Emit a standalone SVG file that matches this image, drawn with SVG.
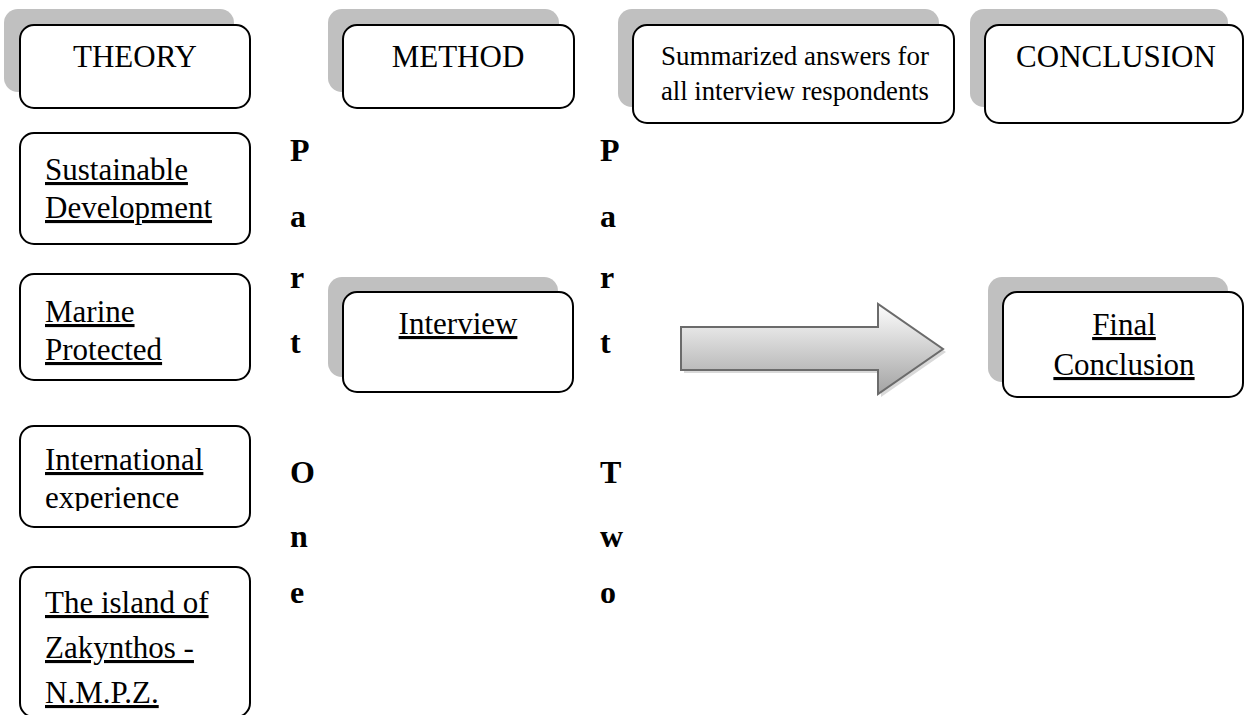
<svg xmlns="http://www.w3.org/2000/svg" width="1246" height="715" viewBox="0 0 1246 715">
<style>
.sh{fill:#c0c0c0}
.bx{fill:#fff;stroke:#000;stroke-width:2}
text{font-family:'Liberation Serif','Times New Roman',Times,serif;fill:#000}
.t{font-size:31px}
.u{text-decoration:underline}
.b{font-size:32px;font-weight:bold}
</style>
<defs>
<linearGradient id="ag" x1="0" y1="0" x2="0" y2="1">
<stop offset="0" stop-color="#fdfdfd"/>
<stop offset="1" stop-color="#a3a3a3"/>
</linearGradient>
<clipPath id="clipIntl"><rect x="0" y="426" width="260" height="85"/></clipPath>
</defs>
<rect width="1246" height="715" fill="#fff"/>

<g id="theory">
<rect class="sh" x="4" y="9" width="230" height="83" rx="14"/>
<rect class="bx" x="20" y="25" width="230" height="83" rx="14"/>
<text class="t" x="135" y="67" text-anchor="middle">THEORY</text>
</g>
<g id="method">
<rect class="sh" x="328" y="9" width="231" height="83" rx="14"/>
<rect class="bx" x="343" y="25" width="231" height="83" rx="14"/>
<text class="t" x="458" y="67" text-anchor="middle">METHOD</text>
</g>
<g id="summarized">
<rect class="sh" x="618" y="9" width="321" height="98" rx="14"/>
<rect class="bx" x="633" y="25" width="321" height="98" rx="14"/>
<text class="t" x="661" y="65" textLength="268" lengthAdjust="spacingAndGlyphs" style="font-size:28px">Summarized answers for</text>
<text class="t" x="661" y="100" textLength="268" lengthAdjust="spacingAndGlyphs" style="font-size:28px">all interview respondents</text>
</g>
<g id="conclusion">
<rect class="sh" x="970" y="9" width="258" height="98" rx="14"/>
<rect class="bx" x="985" y="25" width="258" height="98" rx="14"/>
<text class="t" x="1116" y="67" text-anchor="middle">CONCLUSION</text>
</g>

<g id="sustainable">
<rect class="bx" x="20" y="133" width="230" height="111" rx="14"/>
<text class="t u" x="45" y="180">Sustainable</text>
<text class="t u" x="45" y="218">Development</text>
</g>
<g id="marine">
<rect class="bx" x="20" y="274" width="230" height="106" rx="14"/>
<text class="t u" x="45" y="322">Marine</text>
<text class="t u" x="45" y="360">Protected</text>
</g>
<g id="international">
<rect class="bx" x="20" y="426" width="230" height="101" rx="14"/>
<text class="t u" x="45" y="470">International</text>
<text class="t" x="45" y="508" clip-path="url(#clipIntl)">experience</text>
</g>
<g id="zakynthos">
<rect class="bx" x="20" y="567" width="230" height="150" rx="14"/>
<text class="t u" x="45" y="613">The island of</text>
<text class="t u" x="45" y="658">Zakynthos -</text>
<text class="t u" x="45" y="703">N.M.P.Z.</text>
</g>

<g id="interview">
<rect class="sh" x="328" y="277" width="230" height="100" rx="14"/>
<rect class="bx" x="343" y="292" width="230" height="100" rx="14"/>
<text class="t u" x="458" y="334" text-anchor="middle">Interview</text>
</g>

<g id="final">
<rect class="sh" x="988" y="277" width="240" height="105" rx="14"/>
<rect class="bx" x="1003" y="292" width="240" height="105" rx="14"/>
<text class="t u" x="1124" y="335" text-anchor="middle">Final</text>
<text class="t u" x="1124" y="375" text-anchor="middle">Conclusion</text>
</g>

<g id="part-one">
<text class="b" x="290" y="161">P</text>
<text class="b" x="290" y="227">a</text>
<text class="b" x="290" y="288">r</text>
<text class="b" x="290" y="353">t</text>
<text class="b" x="290" y="483">O</text>
<text class="b" x="290" y="547">n</text>
<text class="b" x="290" y="603">e</text>
</g>
<g id="part-two">
<text class="b" x="600" y="161">P</text>
<text class="b" x="600" y="227">a</text>
<text class="b" x="600" y="288">r</text>
<text class="b" x="600" y="353">t</text>
<text class="b" x="600" y="483">T</text>
<text class="b" x="600" y="547">w</text>
<text class="b" x="600" y="603">o</text>
</g>

<g id="connectors">
<polygon points="684,330 881,330 881,307 946,352 881,397 881,373 684,373" fill="#d0d0d0" opacity="0.8"/>
<polygon points="681,327 878,327 878,304 943,349 878,394 878,370 681,370" fill="url(#ag)" stroke="#6b6b6b" stroke-width="2" stroke-linejoin="miter"/>
</g>
</svg>
